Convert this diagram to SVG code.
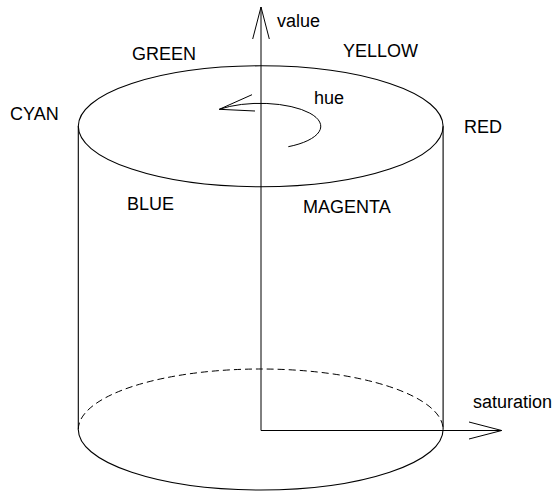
<svg xmlns="http://www.w3.org/2000/svg" width="553" height="491" viewBox="0 0 553 491">
  <style>
    .ln { fill: none; stroke: #000; stroke-width: 1.1; }
    .dash { fill: none; stroke: #000; stroke-width: 1; stroke-dasharray: 7 4; }
    .ax { fill: none; stroke: #000; stroke-width: 1; }
    text { font-family: "Liberation Sans", Arial, sans-serif; font-size: 18px; fill: #000; }
  </style>
  <rect width="553" height="491" fill="#fff"/>

  <!-- HSV cylinder -->
  <g id="cylinder">
    <ellipse class="ln" cx="260.7" cy="126.3" rx="182.4" ry="60.5"/>
    <line class="ln" x1="78.3" y1="126.3" x2="78.3" y2="429.5"/>
    <line class="ln" x1="443.1" y1="126.3" x2="443.1" y2="429.5"/>
    <!-- base: hidden back half dashed, front half solid -->
    <path class="dash" d="M 78.3 429.5 A 182.4 60.5 0 0 1 443.1 429.5"/>
    <path class="ln" d="M 78.3 429.5 A 182.4 60.5 0 0 0 443.1 429.5"/>
  </g>

  <!-- axes and hue rotation -->
  <g id="connectors">
    <polyline id="value-axis" class="ax" points="261,7 261,430.5 501.7,430.5"/>
    <polyline class="ax" points="252.7,39 261,7 269.3,39"/>
    <polyline class="ax" points="469,422 501.7,430.5 469,439"/>
    <path id="hue-arrow" class="ax" d="M 288.3 146.7 A 60.7 23 0 1 0 219.3 109.3"/>
    <polyline class="ax" points="252,94.7 219.3,109.3 255,111"/>
  </g>

  <g id="labels">
    <text x="277" y="27">value</text>
    <text x="132" y="60">GREEN</text>
    <text x="343" y="57">YELLOW</text>
    <text x="10" y="120">CYAN</text>
    <text x="464" y="133">RED</text>
    <text x="314" y="104">hue</text>
    <text x="127" y="210">BLUE</text>
    <text x="303" y="213">MAGENTA</text>
    <text x="473" y="408">saturation</text>
  </g>
</svg>
